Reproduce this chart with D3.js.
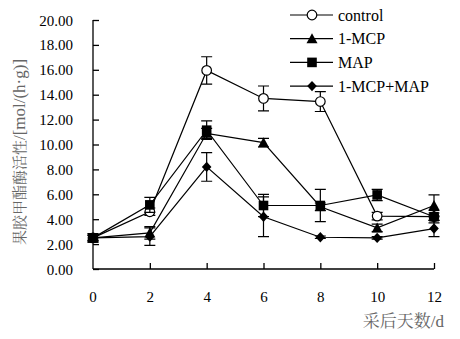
<!DOCTYPE html>
<html><head><meta charset="utf-8">
<script src="https://cdn.jsdelivr.net/npm/d3@7"></script>
<style>body{margin:0;background:#fff}svg{display:block}</style>
</head><body>
<script>
const days = [0, 2, 4, 6, 8, 10, 12];
const seriesNames = ["control", "1-MCP", "MAP", "1-MCP+MAP"];
const control = [2.5, 4.6, 15.95, 13.7, 13.45, 4.25, 4.2];
const controlErr = [0.3, 0.3, 1.1, 1.0, 0.8, 0.3, 0.3];
const mcp = [2.5, 2.9, 10.9, 10.15, 5.0, 3.3, 5.1];
const mcpErr = [0.2, 0.5, 0.4, 0.35, 0.3, 0.3, 0.85];
const map = [2.5, 5.15, 11.15, 5.1, 5.1, 5.95, 4.2];
const mapErr = [0.35, 0.6, 0.75, 0.9, 1.3, 0.45, 0.5];
const mcpMap = [2.5, 2.6, 8.2, 4.2, 2.55, 2.5, 3.25];
const mcpMapErr = [0.2, 0.7, 1.15, 1.6, 0.1, 0.1, 0.65];
const yTicks = [0, 2, 4, 6, 8, 10, 12, 14, 16, 18, 20];
const xTicks = [0, 2, 4, 6, 8, 10, 12];
const yTitleCJK = "果胶甲酯酶活性";
const yTitleUnit = "/[mol/(h·g)]";
const xTitleCJK = "采后天数";
const xTitleUnit = "/d";

const W = 460, H = 339;
const svg = d3.select("body").append("svg").attr("width", W).attr("height", H);
const x = d3.scaleLinear().domain([0, 12]).range([93, 434]);
const y = d3.scaleLinear().domain([0, 20]).range([269, 20]);
const serif = "Liberation Serif";
const cjk = "Noto Serif CJK SC";

const series = [
  {name: seriesNames[0], vals: control, err: controlErr, sym: "circle"},
  {name: seriesNames[1], vals: mcp, err: mcpErr, sym: "triangle"},
  {name: seriesNames[3], vals: mcpMap, err: mcpMapErr, sym: "diamond"},
  {name: seriesNames[2], vals: map, err: mapErr, sym: "square"}
];

function drawMarker(g, sym, cx, cy) {
  if (sym === "circle") {
    g.append("circle").attr("cx", cx).attr("cy", cy).attr("r", 4.8)
      .attr("fill", "#fff").attr("stroke", "#000").attr("stroke-width", 1.2);
  } else if (sym === "triangle") {
    g.append("path").attr("d", `M${cx},${cy-5.5}L${cx+5.5},${cy+4.5}L${cx-5.5},${cy+4.5}Z`).attr("fill", "#000");
  } else if (sym === "square") {
    g.append("rect").attr("x", cx-4.8).attr("y", cy-4.8).attr("width", 9.6).attr("height", 9.6).attr("fill", "#000");
  } else {
    g.append("path").attr("d", `M${cx},${cy-5.2}L${cx+4.8},${cy}L${cx},${cy+5.2}L${cx-4.8},${cy}Z`).attr("fill", "#000");
  }
}

function serifLabel(sel, size, baselineY) {
  sel.each(function() {
    const t = d3.select(this);
    const txt = t.text();
    t.text(null).attr("dy", null).attr("y", baselineY).attr("fill", "#000")
      .style("font-family", serif).style("font-size", size + "px");
    t.append("tspan").attr("font-family", serif).attr("font-size", size).text(txt);
  });
}

// axes
const yAxis = d3.axisLeft(y).tickValues(yTicks).tickSize(-6).tickPadding(20).tickFormat(d3.format(".2f"));
const gy = svg.append("g").attr("transform", `translate(${x(0)},0)`).call(yAxis);
const xAxis = d3.axisBottom(x).tickValues(xTicks.filter(d => d !== 0)).tickSize(-6).tickPadding(22).tickFormat(d3.format("d"));
const gx = svg.append("g").attr("transform", `translate(0,${y(0)})`).call(xAxis);
gx.append("text").attr("x", x(0)).attr("text-anchor", "middle").text(xTicks[0]);
[gy, gx].forEach(g => {
  g.attr("font-family", null).attr("font-size", null);
  g.selectAll("line").attr("stroke", "#000").attr("stroke-width", 1.3);
});
serifLabel(gy.selectAll("text"), 15, 5);
serifLabel(gx.selectAll("text"), 15, 33);
gy.select(".domain").attr("stroke", "#000").attr("stroke-width", 1.3).attr("d", `M0,${y(20)}V${y(0)}`);
gx.select(".domain").attr("stroke", "#000").attr("stroke-width", 1.3).attr("d", `M${x(0)},0H${x(12)}`);

// lines and error bars
const line = d3.line().x((d, i) => x(days[i])).y(d => y(d));
series.forEach(s => {
  svg.append("path").attr("d", line(s.vals)).attr("fill", "none").attr("stroke", "#000").attr("stroke-width", 1.2);
});
series.forEach(s => {
  const g = svg.append("g");
  s.vals.forEach((v, i) => {
    const cx = x(days[i]), t = y(v + s.err[i]), b = y(v - s.err[i]);
    g.append("path").attr("d", `M${cx},${t}V${b}M${cx-5.5},${t}H${cx+5.5}M${cx-5.5},${b}H${cx+5.5}`)
      .attr("stroke", "#000").attr("stroke-width", 1.2).attr("fill", "none");
  });
  s.vals.forEach((v, i) => drawMarker(g, s.sym, x(days[i]), y(v)));
});

// legend
const legendOrder = [series[0], series[1], series[3], series[2]];
legendOrder.forEach((s, i) => {
  const ly = 15 + i * 23.7;
  const g = svg.append("g");
  g.append("line").attr("x1", 290).attr("x2", 333).attr("y1", ly).attr("y2", ly).attr("stroke", "#000").attr("stroke-width", 1.2);
  drawMarker(g, s.sym, 312, ly);
  g.append("text").attr("x", 338).attr("y", ly + 5.5).attr("fill", "#000")
    .style("font-family", serif).style("font-size", "16px")
    .append("tspan").attr("font-family", serif).attr("font-size", 16).text(s.name);
});

// titles
const yt = svg.append("text").attr("transform", "translate(25,152) rotate(-90)").attr("text-anchor", "middle")
  .attr("fill", "#666");
yt.append("tspan").attr("font-family", cjk).attr("font-size", 15).text(yTitleCJK);
yt.append("tspan").attr("font-family", serif).attr("font-size", 17).text(yTitleUnit);
const xt = svg.append("text").attr("x", 444).attr("y", 327).attr("text-anchor", "end").attr("fill", "#666");
xt.append("tspan").attr("font-family", cjk).attr("font-size", 17).text(xTitleCJK);
xt.append("tspan").attr("font-family", serif).attr("font-size", 17).text(xTitleUnit);
</script>
</body></html>
